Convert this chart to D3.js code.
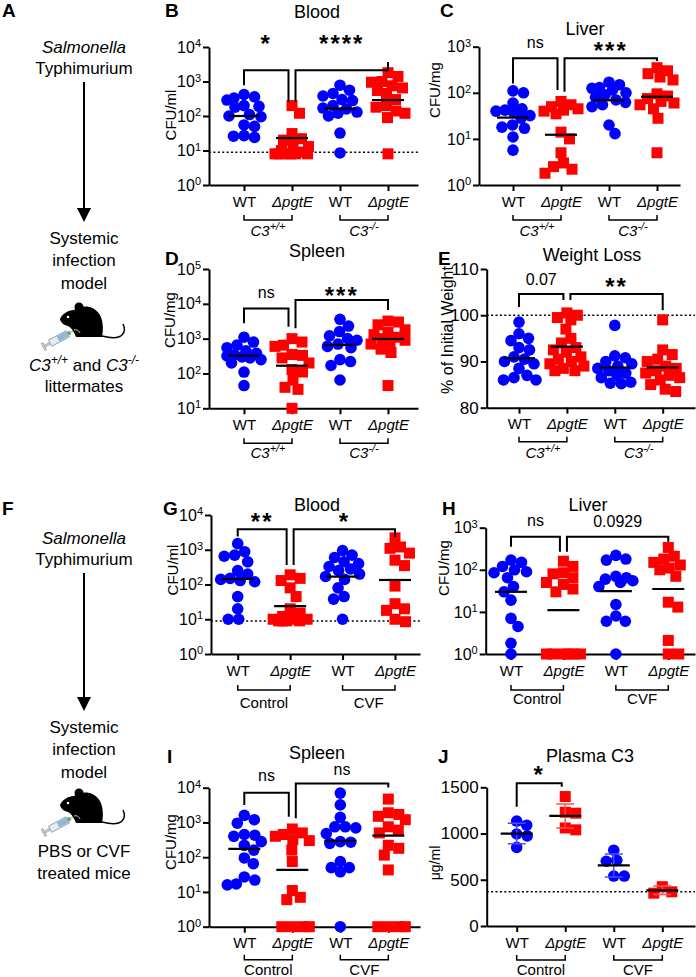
<!DOCTYPE html>
<html>
<head>
<meta charset="utf-8">
<script src="https://cdn.jsdelivr.net/npm/d3@7"></script>
<style>
  body { margin: 0; background: #fff; }
  svg { font-family: "Liberation Sans", Arial, sans-serif; }
</style>
</head>
<body>
<div id="chart"></div>
<script>
// x categories, same for every panel
const groupNames = ["WT", "ΔpgtE", "WT", "ΔpgtE"];

// B - blood CFU/ml, C3+/+ then C3-/-
const bloodC3 = [
  [420, 360, 330, 290, 200, 190, 180, 110, 100, 95, 55, 50, 27, 26, 24],
  [200, 120, 31, 22, 20, 15, 13, 10, 9, 8, 8, 8, 8, 8, 8],
  [780, 560, 450, 380, 300, 280, 200, 170, 160, 130, 120, 100, 32, 8.5],
  [1800, 1400, 1000, 950, 750, 650, 550, 450, 300, 200, 180, 140, 120, 90, 8]
];
const bloodC3Mean = [100, 23, 165, 290];

// C - liver CFU/mg
const liverC3 = [
  [110, 100, 60, 45, 42, 40, 38, 32, 28, 20, 18, 17, 11, 5.7],
  [65, 55, 50, 45, 42, 40, 35, 14, 10, 5, 3, 2.5, 2.2, 1.8],
  [170, 150, 130, 125, 115, 100, 90, 80, 70, 62, 55, 50, 20, 13],
  [350, 300, 260, 220, 190, 95, 85, 75, 65, 60, 55, 45, 28, 5]
];
const liverC3Mean = [29, 12.3, 69, 82];

// D - spleen CFU/mg
const spleenC3 = [
  [1100, 800, 650, 550, 450, 380, 340, 320, 300, 280, 250, 200, 110, 45],
  [1000, 800, 650, 600, 350, 330, 280, 200, 130, 110, 65, 40, 35, 10],
  [3600, 2300, 1600, 1200, 1000, 900, 700, 600, 550, 250, 220, 170, 65],
  [3200, 3000, 2500, 1800, 1500, 1300, 1100, 1000, 900, 800, 700, 500, 400, 45]
];
const spleenC3Mean = [325, 167, 660, 980];

// E - % of initial weight
const weightC3 = [
  [98.5, 96, 95, 94.5, 93, 92.5, 91, 90.5, 90, 89.5, 88.5, 87, 86.5, 86, 86],
  [100.5, 100, 99.5, 99, 97, 95, 94, 93, 92.5, 92, 91, 90.5, 90, 89.5, 89, 88.5, 88, 88],
  [97.8, 91.2, 90.8, 90, 89.5, 89, 88.5, 88, 87.5, 87, 86.5, 85.5, 85.3, 85.2],
  [99, 92.5, 91.5, 90.5, 90, 89, 88.5, 88, 87.5, 87, 86.5, 86, 85, 84, 83.5]
];
const weightC3Mean = [90.7, 93.2, 88.7, 88.7];

// G - blood CFU/ml, control then CVF
const bloodCVF = [
  [1500, 880, 700, 650, 450, 250, 200, 150, 140, 130, 120, 45, 20, 10, 10],
  [190, 150, 130, 80, 45, 20, 15, 12, 10, 10, 10, 9, 9, 9, 9],
  [950, 700, 600, 450, 400, 330, 280, 250, 200, 170, 140, 80, 45, 38, 10],
  [2200, 1200, 1100, 800, 500, 350, 90, 28, 20, 18, 10, 8.5]
];
const bloodCVFMean = [144, 24, 168, 135];

// H - liver CFU/mg
const liverCVF = [
  [170, 150, 120, 100, 90, 85, 65, 40, 30, 19, 7, 4.5, 1.8, 1],
  [160, 120, 85, 80, 65, 50, 45, 35, 30, 1, 1, 1, 1, 1, 1],
  [220, 180, 170, 70, 65, 60, 55, 50, 40, 15, 8, 6, 6, 1],
  [340, 210, 180, 150, 130, 110, 100, 70, 17, 13, 2.1, 1, 1]
];
const liverCVFMean = [30, 11, 31, 35];

// I - spleen CFU/mg
const spleenCVF = [
  [1600, 1200, 950, 450, 430, 400, 280, 220, 160, 95, 65, 27, 22, 17, 16],
  [650, 500, 450, 400, 320, 300, 160, 75, 11, 7, 6, 1, 1, 1, 1],
  [7000, 3200, 1400, 750, 750, 700, 480, 280, 270, 250, 75, 50, 50, 38, 1],
  [4700, 1900, 1700, 1500, 1200, 750, 600, 500, 220, 180, 115, 43, 1, 1, 1, 1]
];
const spleenCVFMean = [173, 43, 297, 417];

// J - plasma C3 ug/ml, mean +/- SD
const plasmaC3 = [
  [1135, 1090, 995, 975, 850],
  [1400, 1230, 1220, 1060, 1040],
  [820, 710, 700, 540, 540],
  [425, 370, 355]
];
const plasmaC3Mean = [1000, 1190, 656, 385];
const plasmaC3SD = [[890, 1110], [1060, 1320], [530, 780], [340, 432]];

// significance brackets: groups, top, leg ends, label and label height (data units)
const sigB = [
  { a: 0, b: 1, top: 2130, legs: [780, 257], text: "*", at: 18200 },
  { a: 1, b: 3, top: 2130, legs: [257, 3700], text: "****", at: 18200 }
];
const sigC = [
  { a: 0, b: 1, top: 560, legs: [160, 115], text: "ns", at: 1180 },
  { a: 1, b: 3, top: 560, legs: [106, 490], text: "***", at: 1090 }
];
const sigD = [
  { a: 0, b: 1, top: 7400, legs: [2760, 2190], text: "ns", at: 20000 },
  { a: 1, b: 3, top: 12900, legs: [2000, 6600], text: "***", at: 25000 }
];
const sigE = [
  { a: 0, b: 1, top: 104.6, legs: [101.8, 103.3], text: "0.07", at: 107.8 },
  { a: 1, b: 3, top: 104.6, legs: [103.3, 101.1], text: "**", at: 107.3 }
];
const sigG = [
  { a: 0, b: 1, top: 3870, legs: [2400, 365], text: "**", at: 8900 },
  { a: 1, b: 3, top: 3870, legs: [365, 2400], text: "*", at: 8900 }
];
const sigH = [
  { a: 0, b: 1, top: 610, legs: [355, 270], text: "ns", at: 1390 },
  { a: 1, b: 3, top: 610, legs: [270, 466], text: "0.0929", at: 1390 }
];
const sigI = [
  { a: 0, b: 1, top: 7200, legs: [3170, 1460], text: "ns", at: 20800 },
  { a: 1, b: 3, top: 13300, legs: [1310, 10200], text: "ns", at: 30500 }
];
const sigJ = [
  { a: 0, b: 1, top: 1543, legs: [1291, 1507], text: "*", at: 1695 }
];

const c3Groups = [["C3", "+/+"], ["C3", "-/-"]];
const cvfGroups = [["Control", ""], ["CVF", ""]];
const logTicks4 = [1, 10, 100, 1000, 10000];
const logTicks3 = [1, 10, 100, 1000];

// panel layout (gOff = group bracket / group label offsets below the axis)
const panels = [
  { letter: "B", lx: 165, ly: 16.5, title: "Blood", tx: 317, ty: 18, yLabel: "CFU/ml", ylx: 170, yly: 115,
    data: bloodC3, means: bloodC3Mean, sig: sigB, groups: c3Groups, gOff: [35, 51], log: true,
    yDomain: [1, 1e4], yRange: [185, 47], ticks: logTicks4, limit: 8.9,
    axisX: 209, catX: [244, 388], endX: 418 },
  { letter: "C", lx: 440, ly: 16.5, title: "Liver", tx: 585, ty: 35, yLabel: "CFU/mg", ylx: 434, yly: 90,
    data: liverC3, means: liverC3Mean, sig: sigC, groups: c3Groups, gOff: [35, 51], log: true,
    yDomain: [1, 1e3], yRange: [185, 46.7], ticks: logTicks3,
    axisX: 479, catX: [513, 657], endX: 680 },
  { letter: "D", lx: 165, ly: 265, title: "Spleen", tx: 317, ty: 257, yLabel: "CFU/mg", ylx: 169, yly: 320,
    data: spleenC3, means: spleenC3Mean, sig: sigD, groups: c3Groups, gOff: [35, 50], log: true,
    yDomain: [10, 1e5], yRange: [408.3, 269], ticks: [10, 100, 1000, 10000, 100000],
    axisX: 209, catX: [244, 388], endX: 418 },
  { letter: "E", lx: 438, ly: 265, title: "Weight Loss", tx: 592, ty: 261, yLabel: "% of Initial Weight", ylx: 447, yly: 330,
    data: weightC3, means: weightC3Mean, sig: sigE, groups: c3Groups, gOff: [34, 50], log: false,
    yDomain: [80, 110], yRange: [407.7, 269], ticks: [80, 90, 100, 110], limit: 100, ylFont: 16,
    axisX: 486.7, catX: [519, 662.7], endX: 695 },
  { letter: "G", lx: 163, ly: 515, title: "Blood", tx: 317, ty: 511, yLabel: "CFU/ml", ylx: 172, yly: 570,
    data: bloodCVF, means: bloodCVFMean, sig: sigG, groups: cvfGroups, gOff: [36, 54], log: true,
    yDomain: [1, 1e4], yRange: [654, 515], ticks: logTicks4, limit: 8.9,
    axisX: 211, catX: [237.7, 395], endX: 420 },
  { letter: "H", lx: 442, ly: 515, title: "Liver", tx: 588, ty: 511, yLabel: "CFU/mg", ylx: 443, yly: 568,
    data: liverCVF, means: liverCVFMean, sig: sigH, groups: cvfGroups, gOff: [36, 50], log: true,
    yDomain: [1, 1e3], yRange: [654, 527.7], ticks: logTicks3,
    axisX: 485.7, catX: [511, 668.3], endX: 695 },
  { letter: "I", lx: 167, ly: 763, title: "Spleen", tx: 317, ty: 759, yLabel: "CFU/mg", ylx: 170, yly: 842,
    data: spleenCVF, means: spleenCVFMean, sig: sigI, groups: cvfGroups, gOff: [33, 48], log: true,
    yDomain: [1, 1e4], yRange: [926.7, 787.7], ticks: logTicks4,
    axisX: 209, catX: [244.3, 388.3], endX: 420 },
  { letter: "J", lx: 438, ly: 763, title: "Plasma C3", tx: 590, ty: 762, yLabel: "μg/ml", ylx: 435, yly: 863,
    data: plasmaC3, means: plasmaC3Mean, sd: plasmaC3SD, sig: sigJ, groups: cvfGroups, gOff: [34, 49], log: false,
    yDomain: [0, 1500], yRange: [926, 787.3], ticks: [0, 500, 1000, 1500], limit: 371, ylFont: 14,
    axisX: 486.7, catX: [516.7, 662.3], endX: 695 }
];

const BLUE = "#0000ff";
const RED = "#ff0000";

const svg = d3.select("#chart").append("svg")
  .attr("width", 696)
  .attr("height", 977);

// simple beeswarm: spread points sideways so they do not overlap
function swarm(values, y, diam, maxOff) {
  const pts = values.map(v => ({ v: v, py: y(v) })).sort((a, b) => a.py - b.py);
  const placed = [];
  pts.forEach(p => {
    let best = 0, bestScore = -Infinity, done = false;
    for (let s = 0; s <= maxOff && !done; s += 0.5) {
      const offs = s === 0 ? [0] : [s, -s];
      for (const off of offs) {
        let minD = Infinity;
        placed.forEach(q => {
          const d = Math.hypot(off - q.dx, p.py - q.py);
          if (d < minD) minD = d;
        });
        if (minD >= diam) { best = off; done = true; break; }
        if (minD > bestScore) { bestScore = minD; best = off; }
      }
    }
    p.dx = best;
    placed.push(p);
  });
  return pts;
}

function labelDy(t) {
  if (t.includes("*")) return "0.57em";
  if (/\d/.test(t)) return "0.36em";
  return "0.27em";
}

function drawPanel(p) {
  const g = svg.append("g");
  const y = (p.log ? d3.scaleLog() : d3.scaleLinear()).domain(p.yDomain).range(p.yRange);
  const xc = d3.scaleLinear().domain([0, 3]).range(p.catX);
  const x = d3.scaleLinear()
    .domain([xc.invert(p.axisX), xc.invert(p.endX)])
    .range([p.axisX, p.endX]);
  const base = p.yRange[0];

  // panel letter and title
  g.append("text").attr("x", p.lx).attr("y", p.ly)
    .attr("font-size", "19px").attr("font-weight", "bold").text(p.letter);
  g.append("text").attr("x", p.tx).attr("y", p.ty)
    .attr("text-anchor", "middle").attr("font-size", "18px").text(p.title);

  // y-axis label
  g.append("text")
    .attr("transform", `translate(${p.ylx},${p.yly}) rotate(-90)`)
    .attr("text-anchor", "middle")
    .attr("dominant-baseline", "central")
    .attr("font-size", (p.ylFont || 15) + "px")
    .text(p.yLabel);

  // dotted detection line
  if (p.limit != null) {
    g.append("line")
      .attr("x1", p.axisX).attr("x2", p.endX)
      .attr("y1", y(p.limit)).attr("y2", y(p.limit))
      .attr("stroke", "#000").attr("stroke-width", 1.5)
      .attr("stroke-dasharray", "2,2.4");
  }

  // y axis
  const ya = g.append("g")
    .attr("transform", `translate(${p.axisX},0)`)
    .call(d3.axisLeft(y).tickValues(p.ticks).tickSize(6).tickPadding(2).tickSizeOuter(0)
      .tickFormat(p.log ? () => "" : d3.format("d")));
  if (p.log) {
    ya.selectAll(".tick text").each(function (d) {
      const t = d3.select(this);
      t.append("tspan").text("10");
      t.append("tspan").attr("dy", "-0.5em").attr("font-size", "11px")
        .text(Math.round(Math.log10(d)));
    });
  }

  // x axis
  const xa = g.append("g")
    .attr("transform", `translate(0,${base})`)
    .call(d3.axisBottom(x).tickValues([0, 1, 2, 3]).tickFormat(i => groupNames[i])
      .tickSize(6).tickPadding(5).tickSizeOuter(0));
  xa.selectAll(".tick text").attr("font-style", d => d % 2 ? "italic" : null)
    .attr("font-size", "15px");

  [ya, xa].forEach(a => {
    a.attr("font-family", null).attr("font-size", null);
    a.selectAll(".domain, .tick line").attr("stroke", "#000").attr("stroke-width", 2);
    a.selectAll(".tick text").attr("fill", "#000");
  });
  ya.selectAll(".tick text").attr("font-size", p.log ? "16px" : "17px");

  // group brackets under the axis
  const [bOff, tOff] = p.gOff;
  p.groups.forEach((gr, k) => {
    const x1 = xc(2 * k), x2 = xc(2 * k + 1);
    g.append("path")
      .attr("d", `M${x1},${base + bOff - 5}V${base + bOff}H${x2}V${base + bOff - 5}`)
      .attr("fill", "none").attr("stroke", "#000").attr("stroke-width", 1.5);
    const t = g.append("text")
      .attr("x", (x1 + x2) / 2).attr("y", base + tOff)
      .attr("text-anchor", "middle").attr("font-size", "15px");
    if (gr[1]) {
      t.append("tspan").attr("font-style", "italic").text(gr[0]);
      t.append("tspan").attr("font-style", "italic").attr("font-size", "11px")
        .attr("dy", "-0.55em").text(gr[1]);
    } else {
      t.text(gr[0]);
    }
  });

  // points
  p.data.forEach((vals, i) => {
    const pts = swarm(vals, y, 10.5, 17);
    const cx = xc(i);
    if (i % 2 === 0) {
      g.append("g").selectAll("circle").data(pts).join("circle")
        .attr("cx", d => cx + d.dx).attr("cy", d => d.py)
        .attr("r", 5.8).attr("fill", BLUE);
    } else {
      g.append("g").selectAll("rect").data(pts).join("rect")
        .attr("x", d => cx + d.dx - 5.5).attr("y", d => d.py - 5.5)
        .attr("width", 11).attr("height", 11).attr("fill", RED);
    }
  });

  // SD error bars (panel J)
  if (p.sd) {
    p.sd.forEach((r, i) => {
      const cx = xc(i);
      const col = i % 2 ? "#ff5050" : "#4a4aff";
      g.append("path")
        .attr("d", `M${cx - 9},${y(r[0])}H${cx + 9}M${cx},${y(r[0])}V${y(r[1])}M${cx - 9},${y(r[1])}H${cx + 9}`)
        .attr("fill", "none").attr("stroke", col).attr("stroke-width", 1.5);
    });
  }

  // mean lines
  g.append("g").selectAll("line").data(p.means).join("line")
    .attr("x1", (d, i) => xc(i) - 16).attr("x2", (d, i) => xc(i) + 16)
    .attr("y1", d => y(d)).attr("y2", d => y(d))
    .attr("stroke", "#000").attr("stroke-width", 2.2);

  // significance brackets
  p.sig.forEach(s => {
    const x1 = xc(s.a) + (s.a === 1 ? 3.5 : 0);
    const x2 = xc(s.b) + (s.b === 1 ? -3.5 : 0);
    g.append("path")
      .attr("d", `M${x1},${y(s.legs[0])}V${y(s.top)}H${x2}V${y(s.legs[1])}`)
      .attr("fill", "none").attr("stroke", "#000").attr("stroke-width", 2);
    const star = s.text.includes("*");
    g.append("text")
      .attr("x", (x1 + x2) / 2).attr("y", y(s.at))
      .attr("dy", labelDy(s.text))
      .attr("text-anchor", "middle")
      .attr("font-size", star ? "24px" : "16px")
      .attr("font-weight", star ? "bold" : null)
      .attr("letter-spacing", star ? "2px" : null)
      .text(s.text);
  });
}

panels.forEach(drawPanel);

// ---------- left column: schematic ----------
function drawMouse(ox, oy) {
  const m = svg.append("g").attr("transform", `translate(${ox},${oy})`);
  // syringe
  const s = m.append("g").attr("transform", "translate(-17,45) rotate(-28)");
  s.append("rect").attr("x", 0).attr("y", -4).attr("width", 2).attr("height", 8)
    .attr("fill", "#c9d1d9").attr("stroke", "#8a97a3").attr("stroke-width", 0.6);
  s.append("rect").attr("x", 2).attr("y", -1).attr("width", 6).attr("height", 2)
    .attr("fill", "#c9d1d9").attr("stroke", "#8a97a3").attr("stroke-width", 0.6);
  s.append("rect").attr("x", 8).attr("y", -3.5).attr("width", 20).attr("height", 7)
    .attr("fill", "#e6ebf0").attr("stroke", "#8a97a3").attr("stroke-width", 0.8);
  s.append("rect").attr("x", 17).attr("y", -2.8).attr("width", 10.5).attr("height", 5.6)
    .attr("fill", "#8fb8d8");
  s.append("rect").attr("x", 28).attr("y", -2).attr("width", 3).attr("height", 4)
    .attr("fill", "#6aa36a");
  s.append("line").attr("x1", 31).attr("x2", 39).attr("y1", 0).attr("y2", 0)
    .attr("stroke", "#7a8a7a").attr("stroke-width", 0.8);
  // body
  m.append("path")
    .attr("d", "M0,17 C2,12 8,8 14,8 C20,3 34,2 40,13 C44,21 43,30 42,35 L16,35 C14,30 12,26 8,24 C4,23 1,21 0,17 Z")
    .attr("fill", "#000");
  m.append("circle").attr("cx", 19).attr("cy", 5).attr("r", 4.5).attr("fill", "#000");
  m.append("circle").attr("cx", 8).attr("cy", 15).attr("r", 1.3).attr("fill", "#fff");
  m.append("path").attr("d", "M14,28 C17,27 19,29 20,31")
    .attr("fill", "none").attr("stroke", "#fff").attr("stroke-width", 0.8);
  // tail
  m.append("path")
    .attr("d", "M42,34 C50,36 58,37 62,33 C65,30 65,26 63,22")
    .attr("fill", "none").attr("stroke", "#000").attr("stroke-width", 1.5);
}

function drawScheme(letter, letterY, top, arrowEnd, mouseY, footLines) {
  const cx = 84;
  svg.append("text").attr("x", 2).attr("y", letterY)
    .attr("font-size", "19px").attr("font-weight", "bold")
    .text(letter);
  const t = (txt, yy, italic) => svg.append("text").attr("x", cx).attr("y", yy)
    .attr("text-anchor", "middle").attr("font-size", "17px")
    .attr("font-style", italic ? "italic" : null).text(txt);
  t("Salmonella", top, true);
  t("Typhimurium", top + 21);
  svg.append("line").attr("x1", cx).attr("x2", cx)
    .attr("y1", top + 29).attr("y2", arrowEnd - 12)
    .attr("stroke", "#000").attr("stroke-width", 2);
  svg.append("path")
    .attr("d", `M${cx - 7},${arrowEnd - 14}L${cx + 7},${arrowEnd - 14}L${cx},${arrowEnd}Z`)
    .attr("fill", "#000");
  t("Systemic", arrowEnd + 22);
  t("infection", arrowEnd + 44);
  t("model", arrowEnd + 67);
  drawMouse(60, mouseY);
  footLines(svg, cx);
}

drawScheme("A", 17, 53, 222, 302, (s, cx) => {
  const l1 = s.append("text").attr("x", cx).attr("y", 371)
    .attr("text-anchor", "middle").attr("font-size", "17px");
  l1.append("tspan").attr("font-style", "italic").text("C3");
  l1.append("tspan").attr("font-style", "italic").attr("font-size", "12px").attr("dy", "-0.55em").text("+/+");
  l1.append("tspan").attr("dy", "0.39em").text(" and ");
  l1.append("tspan").attr("font-style", "italic").text("C3");
  l1.append("tspan").attr("font-style", "italic").attr("font-size", "12px").attr("dy", "-0.55em").text("-/-");
  s.append("text").attr("x", cx).attr("y", 392)
    .attr("text-anchor", "middle").attr("font-size", "17px").text("littermates");
});

drawScheme("F", 515, 544, 711, 788, (s, cx) => {
  s.append("text").attr("x", cx).attr("y", 857)
    .attr("text-anchor", "middle").attr("font-size", "17px").text("PBS or CVF");
  s.append("text").attr("x", cx).attr("y", 879)
    .attr("text-anchor", "middle").attr("font-size", "17px").text("treated mice");
});
</script>
</body>
</html>
